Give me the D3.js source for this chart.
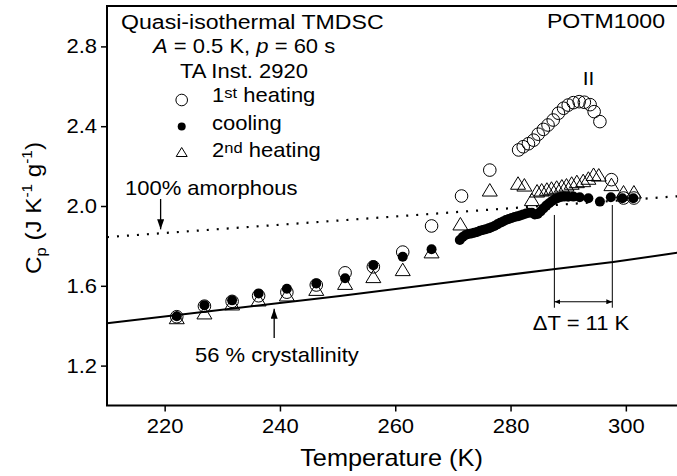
<!DOCTYPE html>
<html>
<head>
<meta charset="utf-8">
<script src="https://cdn.jsdelivr.net/npm/d3@7"></script>
<style>
  body { margin: 0; background: #fff; }
  svg { display: block; font-family: "Liberation Sans", Arial, sans-serif; }
</style>
</head>
<body>
<svg id="chart" width="677" height="476"></svg>
<script>
// 1st heating (open circles)
var heat1T  = [222.1, 226.9, 231.7, 236.3, 241.2, 246.3, 251.3, 256.2, 261.3, 266.3, 271.5, 276.4,
               281.4, 282.2, 283.1, 284.0, 284.8, 285.7, 286.5, 287.4, 288.3, 289.2, 290.0, 290.9,
               291.9, 292.8, 293.8, 294.5, 295.5, 297.5, 299.6, 301.4];
var heat1Cp = [1.445, 1.498, 1.522, 1.550, 1.568, 1.604, 1.665, 1.695, 1.769, 1.900, 2.050, 2.180,
               2.281, 2.297, 2.312, 2.330, 2.360, 2.384, 2.406, 2.431, 2.465, 2.490, 2.506, 2.518,
               2.523, 2.520, 2.508, 2.473, 2.423, 2.132, 2.040, 2.040];

// cooling (filled circles)
var coolT  = [222.1, 226.9, 231.7, 236.3, 241.2, 246.3, 251.3, 256.2, 261.3, 266.3,
              271.2, 271.7, 272.2, 272.7, 273.2, 273.7, 274.2, 274.7, 275.2, 275.7, 276.2, 276.7,
              277.2, 277.7, 278.2, 278.7, 279.2, 279.7, 280.2, 280.7, 281.2, 281.7, 282.2, 282.7,
              283.2, 283.7, 284.2, 284.7, 285.2, 285.7, 286.2, 286.7, 287.2, 287.7, 288.2, 288.7,
              289.3, 290.0, 290.9, 292.0, 293.5, 295.5, 297.4, 299.4, 301.3];
var coolCp = [1.447, 1.503, 1.527, 1.562, 1.585, 1.612, 1.638, 1.703, 1.746, 1.783,
              1.830, 1.845, 1.855, 1.860, 1.862, 1.866, 1.870, 1.876, 1.880, 1.884, 1.888, 1.894,
              1.900, 1.908, 1.916, 1.922, 1.930, 1.935, 1.940, 1.945, 1.948, 1.952, 1.958, 1.962,
              1.966, 1.966, 1.958, 1.960, 1.972, 1.988, 2.002, 2.014, 2.025, 2.034, 2.040, 2.045,
              2.047, 2.046, 2.047, 2.044, 2.039, 2.022, 2.044, 2.039, 2.039];

// 2nd heating (open triangles)
var heat2T  = [222.1, 226.9, 231.7, 236.3, 241.2, 246.3, 251.3, 256.2, 261.3, 266.3, 271.3, 276.4,
               281.3, 282.4, 283.7, 284.6, 285.4, 286.3, 287.1, 288.0, 288.9, 289.7, 290.6, 291.5,
               292.6, 293.5, 294.4, 295.3, 297.5, 299.6, 301.4];
var heat2Cp = [1.440, 1.464, 1.509, 1.529, 1.554, 1.582, 1.612, 1.646, 1.681, 1.770, 1.910, 2.080,
               2.114, 2.105, 2.032, 2.075, 2.080, 2.084, 2.089, 2.094, 2.100, 2.105, 2.114, 2.122,
               2.127, 2.139, 2.158, 2.155, 2.107, 2.070, 2.070];

// reference lines
var amorphT  = [210, 310];
var amorphCp = [1.844, 2.051];
var crystT   = [210, 250.4, 273.5, 287.4, 297.8, 310];
var crystCp  = [1.412, 1.549, 1.633, 1.683, 1.719, 1.770];

// ticks
var xTicks = [220, 240, 260, 280, 300];
var yTicks = [1.2, 1.6, 2.0, 2.4, 2.8];

// delta T markers (K) and their extent (Cp)
var deltaT   = [287.6, 297.65];
var deltaTop = [1.955, 2.005];
var deltaBottom = 1.490;
var deltaArrowCp = 1.520;

var svg = d3.select('#chart');
var sx = 1.1; // the original type is a bit wider than Arial

var x = d3.scaleLinear().domain([210, 310]).range([107, 683.5]);
var y = d3.scaleLinear().domain([1.0, 3.0]).range([405.5, 6.5]);

var defs = svg.append('defs');
function arrowMarker(id, w, l) {
  defs.append('marker')
    .attr('id', id)
    .attr('viewBox', '0 0 ' + l + ' ' + w)
    .attr('refX', l).attr('refY', w / 2)
    .attr('markerWidth', l).attr('markerHeight', w)
    .attr('markerUnits', 'userSpaceOnUse')
    .attr('orient', 'auto-start-reverse')
    .append('path')
    .attr('d', 'M0,0 L' + l + ',' + (w / 2) + ' L0,' + w + ' Z')
    .attr('fill', '#000');
}
arrowMarker('bigArrow', 7, 10);
arrowMarker('smallArrow', 5, 6);

// reference lines
var line = d3.line().x(function(d) { return x(d[0]); }).y(function(d) { return y(d[1]); });

svg.append('path')
  .attr('d', line(d3.zip(amorphT, amorphCp)))
  .attr('fill', 'none')
  .attr('stroke', '#000')
  .attr('stroke-width', 2.2)
  .attr('stroke-dasharray', '2 8');

svg.append('path')
  .attr('d', line(d3.zip(crystT, crystCp)))
  .attr('fill', 'none')
  .attr('stroke', '#000')
  .attr('stroke-width', 2);

// data
var triPath = 'M0,-6.5 L7.5,6 L-7.5,6 Z';

svg.append('g').selectAll('path')
  .data(d3.zip(heat2T, heat2Cp))
  .enter().append('path')
  .attr('d', triPath)
  .attr('transform', function(d) { return 'translate(' + x(d[0]) + ',' + y(d[1]) + ')'; })
  .attr('fill', 'none')
  .attr('stroke', '#000')
  .attr('stroke-width', 1);

svg.append('g').selectAll('circle')
  .data(d3.zip(coolT, coolCp))
  .enter().append('circle')
  .attr('cx', function(d) { return x(d[0]); })
  .attr('cy', function(d) { return y(d[1]); })
  .attr('r', 5)
  .attr('fill', '#000');

svg.append('g').selectAll('circle')
  .data(d3.zip(heat1T, heat1Cp))
  .enter().append('circle')
  .attr('cx', function(d) { return x(d[0]); })
  .attr('cy', function(d) { return y(d[1]); })
  .attr('r', 6.3)
  .attr('fill', 'none')
  .attr('stroke', '#000')
  .attr('stroke-width', 1);

// delta T annotation
deltaT.forEach(function(t, i) {
  svg.append('line')
    .attr('x1', x(t)).attr('x2', x(t))
    .attr('y1', y(deltaTop[i])).attr('y2', y(deltaBottom))
    .attr('stroke', '#000').attr('stroke-width', 1);
});
svg.append('line')
  .attr('x1', x(deltaT[0])).attr('x2', x(deltaT[1]))
  .attr('y1', y(deltaArrowCp)).attr('y2', y(deltaArrowCp))
  .attr('stroke', '#000').attr('stroke-width', 1)
  .attr('marker-start', 'url(#smallArrow)')
  .attr('marker-end', 'url(#smallArrow)');

// pointer arrows
svg.append('line')
  .attr('x1', x(219.3)).attr('x2', x(219.3))
  .attr('y1', y(2.035)).attr('y2', y(1.883))
  .attr('stroke', '#000').attr('stroke-width', 1.3)
  .attr('marker-end', 'url(#bigArrow)');
svg.append('line')
  .attr('x1', x(239.0)).attr('x2', x(239.0))
  .attr('y1', y(1.338)).attr('y2', y(1.485))
  .attr('stroke', '#000').attr('stroke-width', 1.3)
  .attr('marker-end', 'url(#bigArrow)');

// axes
var yAxis = svg.append('g')
  .attr('transform', 'translate(107,0)')
  .call(d3.axisLeft(y).tickValues(yTicks).tickSize(6).tickPadding(3).tickFormat(d3.format('.1f')));
var xAxis = svg.append('g')
  .attr('transform', 'translate(0,405.5)')
  .call(d3.axisBottom(x).tickValues(xTicks).tickSize(6).tickPadding(7).tickFormat(d3.format('d')));

[xAxis, yAxis].forEach(function(g) {
  g.select('.domain').remove();
  g.selectAll('.tick line').attr('stroke', '#000').attr('stroke-width', 1.5);
  g.selectAll('.tick text')
    .attr('fill', '#000')
    .attr('font-size', 20)
    .attr('font-family', '"Liberation Sans", Arial, sans-serif')
    .attr('transform', 'scale(' + sx + ',1)');
});

// frame: left, bottom, top
svg.append('path')
  .attr('d', 'M677,6 L107,6 L107,405.5 L677,405.5')
  .attr('fill', 'none')
  .attr('stroke', '#000')
  .attr('stroke-width', 2);

// text helper
function label(px, py, size, anchor, rot) {
  var t = svg.append('text')
    .attr('transform', 'translate(' + px + ',' + py + ')' + (rot ? ' rotate(' + rot + ')' : '') + ' scale(' + sx + ',1)')
    .attr('font-size', size)
    .attr('text-anchor', anchor || 'start')
    .attr('fill', '#000');
  return t;
}

label(121, 29, 21).text('Quasi-isothermal TMDSC');
label(665, 28, 21, 'end').text('POTM1000');

var t2 = label(153, 53, 20);
t2.append('tspan').attr('font-style', 'italic').text('A');
t2.append('tspan').text(' = 0.5 K, ');
t2.append('tspan').attr('font-style', 'italic').text('p');
t2.append('tspan').text(' = 60 s');

label(180, 78, 20).text('TA Inst. 2920');

// legend
svg.append('circle').attr('cx', 181.7).attr('cy', 100).attr('r', 5.8)
  .attr('fill', 'none').attr('stroke', '#000').attr('stroke-width', 1);
svg.append('circle').attr('cx', 181.7).attr('cy', 126.5).attr('r', 4).attr('fill', '#000');
svg.append('path').attr('d', 'M0,-4.5 L5.5,4.5 L-5.5,4.5 Z')
  .attr('transform', 'translate(181.7,152)')
  .attr('fill', 'none').attr('stroke', '#000').attr('stroke-width', 1);

var l1 = label(212, 102, 20);
l1.append('tspan').text('1');
l1.append('tspan').attr('font-size', 15).attr('dy', -4).text('st');
l1.append('tspan').attr('dy', 4).text(' heating');

label(212, 129.5, 20).text('cooling');

var l3 = label(212, 157, 20);
l3.append('tspan').text('2');
l3.append('tspan').attr('font-size', 15).attr('dy', -4).text('nd');
l3.append('tspan').attr('dy', 4).text(' heating');

label(125, 195, 20).text('100% amorphous');
label(195, 362, 20).text('56 % crystallinity');
label(581, 330, 20, 'middle').text('\u0394T = 11 K');
label(588.5, 85, 19, 'middle').text('II');

// axis titles
label(391.5, 466, 23, 'middle').text('Temperature (K)');

var yl = label(40.5, 208, 22, 'middle', -90);
yl.append('tspan').text('C');
yl.append('tspan').attr('font-size', 15).attr('dy', 5).text('p');
yl.append('tspan').attr('dy', -5).text(' (J K');
yl.append('tspan').attr('font-size', 14).attr('dy', -9).text('-1');
yl.append('tspan').attr('dy', 9).text(' g');
yl.append('tspan').attr('font-size', 14).attr('dy', -9).text('-1');
yl.append('tspan').attr('dy', 9).text(')');
</script>
</body>
</html>
